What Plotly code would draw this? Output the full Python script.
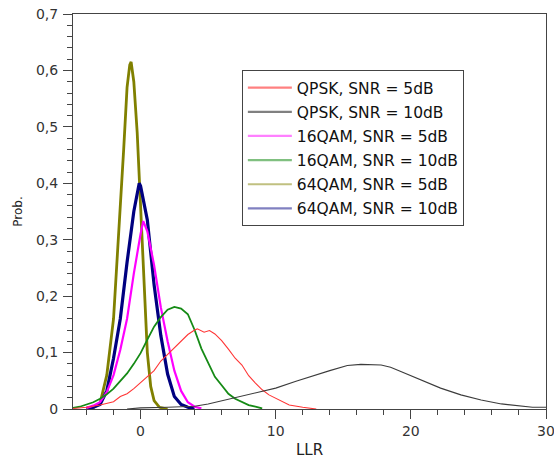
import plotly.graph_objects as go

# ---- data ----
qpsk5_x = [-5, -4, -3, -2, -1.5, -1, -0.5, 0, 0.5, 1, 1.5, 2, 2.5, 3, 3.5, 4, 4.2, 4.7, 5.1, 5.5, 6, 6.5, 7, 7.5, 8, 8.5, 9, 9.5, 10, 11, 12, 13]
qpsk5_y = [0.001, 0.003, 0.007, 0.013, 0.022, 0.027, 0.036, 0.047, 0.057, 0.068, 0.085, 0.097, 0.108, 0.12, 0.132, 0.14, 0.142, 0.136, 0.139, 0.133, 0.121, 0.106, 0.09, 0.078, 0.059, 0.046, 0.034, 0.025, 0.019, 0.007, 0.003, 0.0]

qpsk10_x = [-1, 0, 2, 4, 5, 6.5, 8, 9, 10, 11.5, 13, 14, 15.3, 16.3, 17.8, 18.5, 19.3, 20.7, 22.2, 23.7, 25.2, 26.7, 28.1, 29, 30]
qpsk10_y = [0.0, 0.002, 0.003, 0.005, 0.009, 0.017, 0.025, 0.031, 0.037, 0.049, 0.061, 0.068, 0.077, 0.079, 0.078, 0.074, 0.066, 0.052, 0.037, 0.025, 0.016, 0.009, 0.005, 0.003, 0.003]

qam16_5_x = [-4, -3.5, -3, -2.5, -2, -1.5, -1, -0.5, 0, 0.2, 0.5, 1, 1.5, 2, 2.5, 3, 3.5, 4, 4.5]
qam16_5_y = [0.002, 0.006, 0.012, 0.03, 0.06, 0.105, 0.16, 0.24, 0.31, 0.333, 0.315, 0.255, 0.18, 0.12, 0.068, 0.032, 0.012, 0.004, 0.001]

qam16_10_x = [-5, -4.5, -4, -3.5, -3, -2.5, -2, -1.5, -1, -0.5, 0, 0.5, 1, 1.5, 2, 2.5, 3, 3.5, 4, 4.5, 5, 5.5, 6, 6.5, 7, 7.5, 8, 8.5, 9]
qam16_10_y = [0.002, 0.004, 0.008, 0.012, 0.018, 0.026, 0.036, 0.049, 0.063, 0.08, 0.099, 0.123, 0.146, 0.163, 0.176, 0.181, 0.178, 0.168, 0.14, 0.107, 0.082, 0.057, 0.042, 0.027, 0.018, 0.012, 0.007, 0.004, 0.001]

qam64_5_x = [-4, -3.5, -3, -2.5, -2, -1.5, -1.25, -1, -0.8, -0.7, -0.5, -0.25, 0, 0.25, 0.5, 0.75, 1, 1.4, 2]
qam64_5_y = [0.0, 0.002, 0.01, 0.06, 0.16, 0.35, 0.46, 0.57, 0.61, 0.615, 0.58, 0.49, 0.35, 0.22, 0.1, 0.04, 0.015, 0.003, 0.0]

qam64_10_x = [-4, -3.5, -3, -2.5, -2, -1.5, -1, -0.5, -0.1, 0, 0.5, 1, 1.5, 2, 2.5, 3, 3.5, 4]
qam64_10_y = [0.001, 0.003, 0.008, 0.032, 0.09, 0.16, 0.26, 0.35, 0.4, 0.395, 0.335, 0.22, 0.13, 0.062, 0.022, 0.008, 0.003, 0.001]

names = ["QPSK, SNR = 5dB", "QPSK, SNR = 10dB", "16QAM, SNR = 5dB",
         "16QAM, SNR = 10dB", "64QAM, SNR = 5dB", "64QAM, SNR = 10dB"]
xs = [qpsk5_x, qpsk10_x, qam16_5_x, qam16_10_x, qam64_5_x, qam64_10_x]
ys = [qpsk5_y, qpsk10_y, qam16_5_y, qam16_10_y, qam64_5_y, qam64_10_y]
colors = ["#ff3535", "#3c3c3c", "#ff00ff", "#158a15", "#808000", "#000080"]
legend_colors = ["#ff8080", "#808080", "#ff80ff", "#80c080", "#c0c080", "#8080c0"]
widths = [1.1, 1.1, 2.2, 1.8, 2.8, 3.2]

fig = go.Figure()
order = [4, 5, 2, 3, 0, 1]
for i in order:
    fig.add_trace(go.Scatter(x=xs[i], y=ys[i], mode="lines", showlegend=False,
                             line=dict(color=colors[i], width=widths[i])))
for i in range(6):
    fig.add_trace(go.Scatter(x=[None], y=[None], mode="lines", name=names[i],
                             legendgroup=f"g{i}",
                             line=dict(color=legend_colors[i], width=2.2)))

axis_font = dict(family="DejaVu Sans", size=14, color="#333333")
fig.update_layout(
    width=554, height=460,
    margin=dict(l=73, r=8, t=14, b=51, autoexpand=False),
    paper_bgcolor="white", plot_bgcolor="white",
    separators=", ",
    font=dict(family="DejaVu Sans", size=13, color="#222222"),
    legend=dict(x=0.357, y=0.858, xanchor="left", yanchor="top",
                bgcolor="white", bordercolor="#444444", borderwidth=1,
                font=dict(family="DejaVu Sans", size=15.5, color="#111111"),
                itemwidth=44,
                tracegroupgap=1, traceorder="grouped"),
    xaxis=dict(range=[-5, 30.0001], tickmode="array",
               tickvals=[0, 10, 20, 30], ticktext=["0", "10", "20", "30"],
               showgrid=False, zeroline=False,
               automargin=False, ticklabeloverflow="allow",
               showline=True, linecolor="#444444", linewidth=1, mirror=True,
               ticks="outside", ticklen=9, tickcolor="#444444",
               minor=dict(dtick=2, tick0=0, ticks="outside", ticklen=5, tickcolor="#444444", showgrid=False),
               tickfont=axis_font,
               title=dict(text="LLR", font=dict(family="DejaVu Sans", size=15, color="#222222"), standoff=6)),
    yaxis=dict(range=[0, 0.7], tick0=0, dtick=0.1, showgrid=False, zeroline=False,
               automargin=False,
               showline=True, linecolor="#444444", linewidth=1, mirror=True,
               ticks="outside", ticklen=9, tickcolor="#444444", ticklabelstandoff=2,
               minor=dict(dtick=0.02, tick0=0, ticks="outside", ticklen=5, tickcolor="#444444", showgrid=False),
               tickfont=axis_font,
               title=dict(text="Prob.", font=dict(family="DejaVu Sans", size=12, color="#222222"), standoff=10)),
)

fig.write_html("out.html")
